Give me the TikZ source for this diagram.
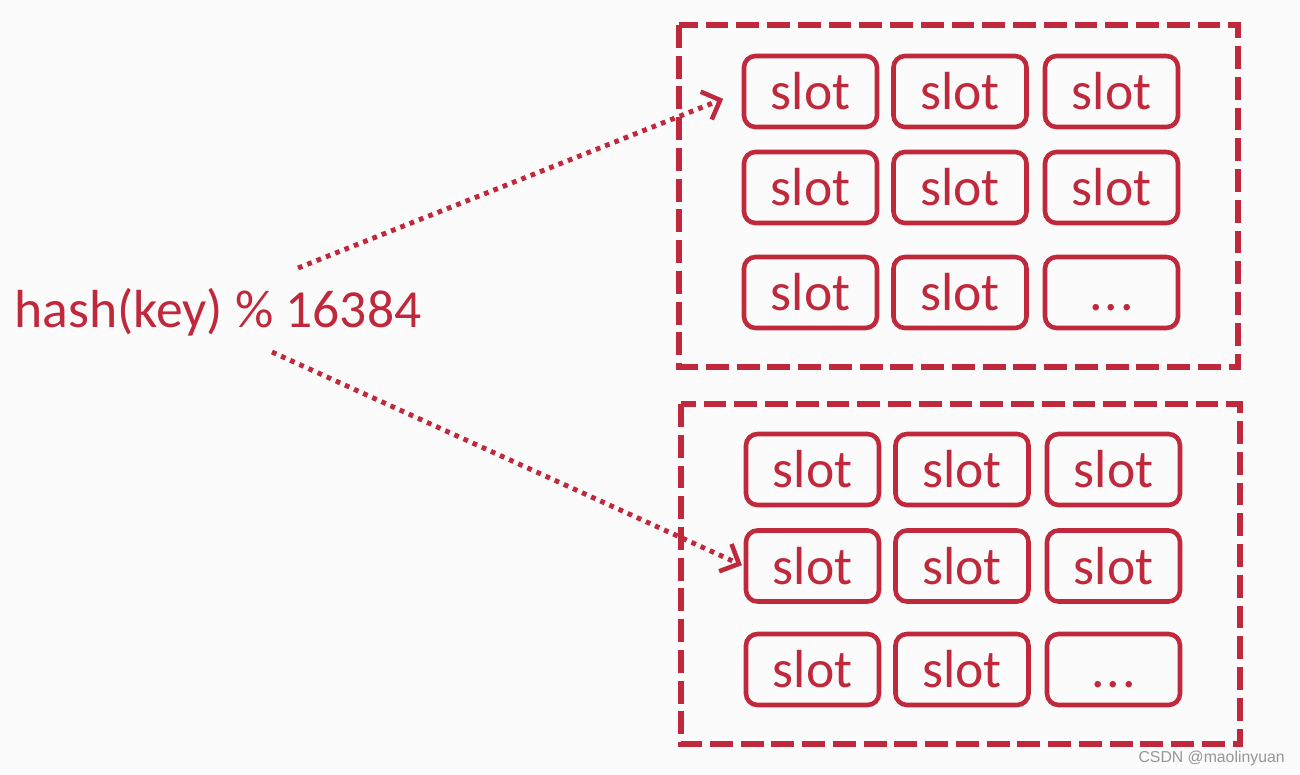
\documentclass[tikz,border=0pt]{standalone}
\usepackage{fontspec}
\setmainfont{Carlito}
\newfontfamily\markfont{Liberation Sans}
\usetikzlibrary{arrows.meta}
\definecolor{slotred}{RGB}{192,40,60}
\definecolor{pagebg}{RGB}{251,251,251}
\definecolor{markgray}{RGB}{150,150,150}
\newcommand{\slotdots}{\vphantom{slot}.\kern1.2pt.\kern1.2pt.}

\begin{document}
\begin{tikzpicture}[x=0.02cm, y=-0.02cm,
      slot/.style={rectangle, rounded corners=6.5pt, draw=slotred, line width=2.6pt, minimum width=2.66cm, minimum height=1.42cm, inner sep=0pt, text=slotred, font=\fontsize{30.5}{36}\selectfont},
      group/.style={draw=slotred, line width=3.4pt, dash pattern=on 13pt off 4.5pt},
      arr/.style={-{Straight Barb[length=3mm, width=6mm, line width=2.6pt]}, draw=slotred, line width=2.8pt, dash pattern=on 2.7pt off 3pt}
    ]
      \useasboundingbox[fill=pagebg] (0,0) rectangle (1300,774);

      % Left: hash expression
      \node[anchor=base west, inner sep=0pt, text=slotred, font=\fontsize{30.5}{36}\selectfont] (hash) at (14,327) {hash(key) \% 16384};
      \coordinate (upstart) at (298,268);
      \coordinate (downstart) at (272,352);

      % Upper group of slots
      \draw[group] (679,25) rectangle (1238,367);
      \node[slot] (a11) at (810.5,91.5) {slot};
      \node[slot] (a12) at (960,91.5) {slot};
      \node[slot] (a13) at (1111.5,91.5) {slot};
      \node[slot] (a21) at (810.5,187.5) {slot};
      \node[slot] (a22) at (960,187.5) {slot};
      \node[slot] (a23) at (1111.5,187.5) {slot};
      \node[slot] (a31) at (810.5,292.5) {slot};
      \node[slot] (a32) at (960,292.5) {slot};
      \node[slot] (a33) at (1111.5,292.5) {\slotdots};

      % Lower group of slots
      \draw[group] (681,404) rectangle (1240,744);
      \node[slot] (b11) at (812.5,469.5) {slot};
      \node[slot] (b12) at (962,469.5) {slot};
      \node[slot] (b13) at (1113.5,469.5) {slot};
      \node[slot] (b21) at (812.5,566) {slot};
      \node[slot] (b22) at (962,566) {slot};
      \node[slot] (b23) at (1113.5,566) {slot};
      \node[slot] (b31) at (812.5,669.5) {slot};
      \node[slot] (b32) at (962,669.5) {slot};
      \node[slot] (b33) at (1113.5,669.5) {\slotdots};

      % Hash paths
      \draw[arr, shorten >=0.4cm] (upstart) -- (a11.west);
      \draw[arr, shorten >=0.04cm] (downstart) -- (b21.west);

      \node[anchor=base east, inner sep=0pt, text=markgray, font=\markfont\fontsize{9}{11}\selectfont] (mark) at (1285,762) {CSDN @maolinyuan};
    \end{tikzpicture}
\end{document}
